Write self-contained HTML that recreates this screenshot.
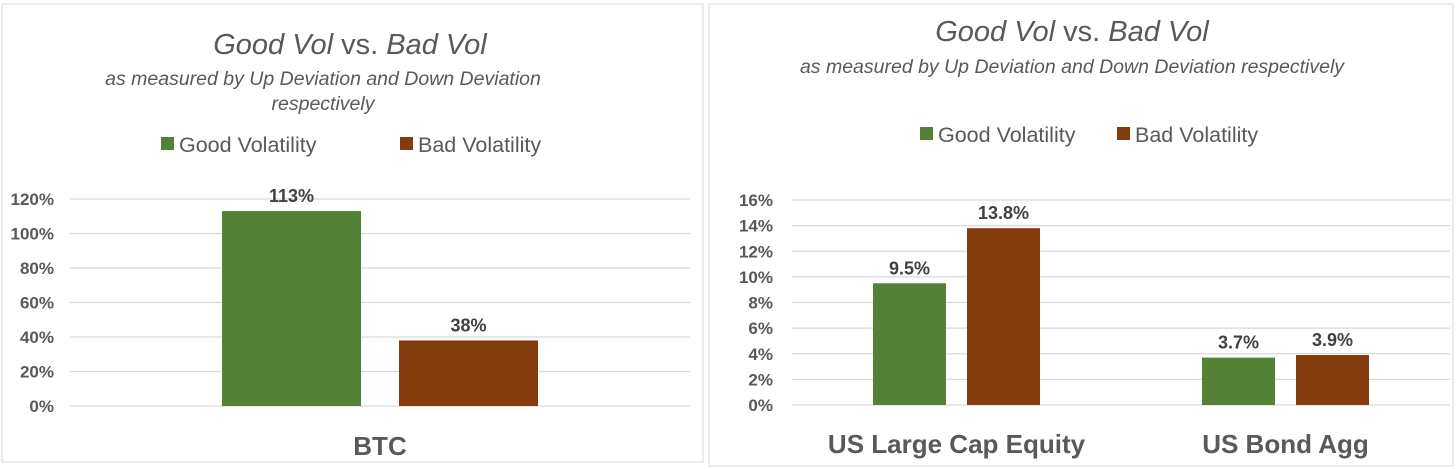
<!DOCTYPE html>
<html><head><meta charset="utf-8"><style>
body{margin:0;background:#fff;width:1456px;height:469px;overflow:hidden}
svg{display:block;font-family:"Liberation Sans",Calibri,sans-serif}
</style></head><body>
<svg id="svg" width="1456" height="469">
<rect x="2" y="4" width="701" height="458" fill="#fff" stroke="#d9d9d9"/>
<rect x="709" y="4" width="744" height="462" fill="#fff" stroke="#d9d9d9"/>
<g fill="#595959" font-style="italic" text-anchor="middle">
<text x="350" y="54" font-size="29"><tspan>Good Vol</tspan><tspan font-style="normal"> vs. </tspan><tspan>Bad Vol</tspan></text>
<text x="323" y="85" font-size="19.5">as measured by Up Deviation and Down Deviation</text>
<text x="323" y="110" font-size="19.5">respectively</text>
<text x="1072" y="41" font-size="29"><tspan>Good Vol</tspan><tspan font-style="normal"> vs. </tspan><tspan>Bad Vol</tspan></text>
<text x="1072" y="73" font-size="19.5">as measured by Up Deviation and Down Deviation respectively</text>
</g>
<g font-size="21.5" fill="#595959">
<rect x="161" y="137" width="13" height="13" fill="#538135"/>
<text x="179" y="152">Good Volatility</text>
<rect x="400" y="137" width="13" height="13" fill="#843c0c"/>
<text x="418" y="152">Bad Volatility</text>
<rect x="920" y="127" width="13" height="13" fill="#538135"/>
<text x="938" y="142">Good Volatility</text>
<rect x="1117" y="127" width="13" height="13" fill="#843c0c"/>
<text x="1135" y="142">Bad Volatility</text>
</g>
<g id="left"></g><g id="right"></g>
</svg>
<script>
const leftCats=["BTC"];
const leftGood=[113];
const leftBad=[38];
const leftTicks=[0,20,40,60,80,100,120];
const rightCats=["US Large Cap Equity","US Bond Agg"];
const rightGood=[9.5,3.7];
const rightBad=[13.8,3.9];
const rightTicks=[0,2,4,6,8,10,12,14,16];
const NS="http://www.w3.org/2000/svg";
function mk(p,t,a,txt){const e=document.createElementNS(NS,t);for(const k in a)e.setAttribute(k,a[k]);if(txt!==undefined)e.textContent=txt;p.appendChild(e);return e;}
function draw(g,cfg){
  const y=v=>cfg.y0-(v-cfg.min)/(cfg.max-cfg.min)*(cfg.y0-cfg.y1);
  cfg.ticks.forEach(t=>{
    const l=mk(g,'line',{x1:cfg.px0,x2:cfg.px1,y1:y(t),y2:y(t),stroke:'#d9d9d9','stroke-width':1.3});
    
    
    const tx=mk(g,'text',{x:cfg.lx,y:y(t)+6,'text-anchor':'end','font-size':17,'font-weight':'bold',fill:'#595959'},t+'%');
    
    
  });
  const band=(cfg.px1-cfg.px0)/cfg.cats.length;
  cfg.cats.forEach((c,i)=>{
    const cx=cfg.px0+band*(i+0.5);
    const vals=[cfg.good[i],cfg.bad[i]],cols=['#538135','#843c0c'];
    vals.forEach((v,j)=>{
      const bx=cx+(j===0?-cfg.gap/2-cfg.bw:cfg.gap/2);
      const r=mk(g,'rect',{x:bx,y:y(v),width:cfg.bw,height:y(0)-y(v),fill:cols[j]});
      
      
      const lb=mk(g,'text',{x:bx+cfg.bw/2,y:y(v)-9,'text-anchor':'middle','font-size':18,'font-weight':'bold',fill:'#404040'},v.toFixed(cfg.dec)+'%');
      
      
    });
    const cl=mk(g,'text',{x:cx,y:cfg.catY,'text-anchor':'middle','font-size':26,'font-weight':'bold',fill:'#595959'},c);
    
    
  });
}
draw(document.getElementById('left'),{cats:leftCats,good:leftGood,bad:leftBad,ticks:leftTicks,min:0,max:120,y0:406,y1:199,px0:70,px1:690,lx:54,bw:139,gap:38,dec:0,catY:455});
draw(document.getElementById('right'),{cats:rightCats,good:rightGood,bad:rightBad,ticks:rightTicks,min:0,max:16,y0:405,y1:200,px0:792,px1:1450,lx:773,bw:73,gap:21,dec:1,catY:453});
</script>
</body></html>
